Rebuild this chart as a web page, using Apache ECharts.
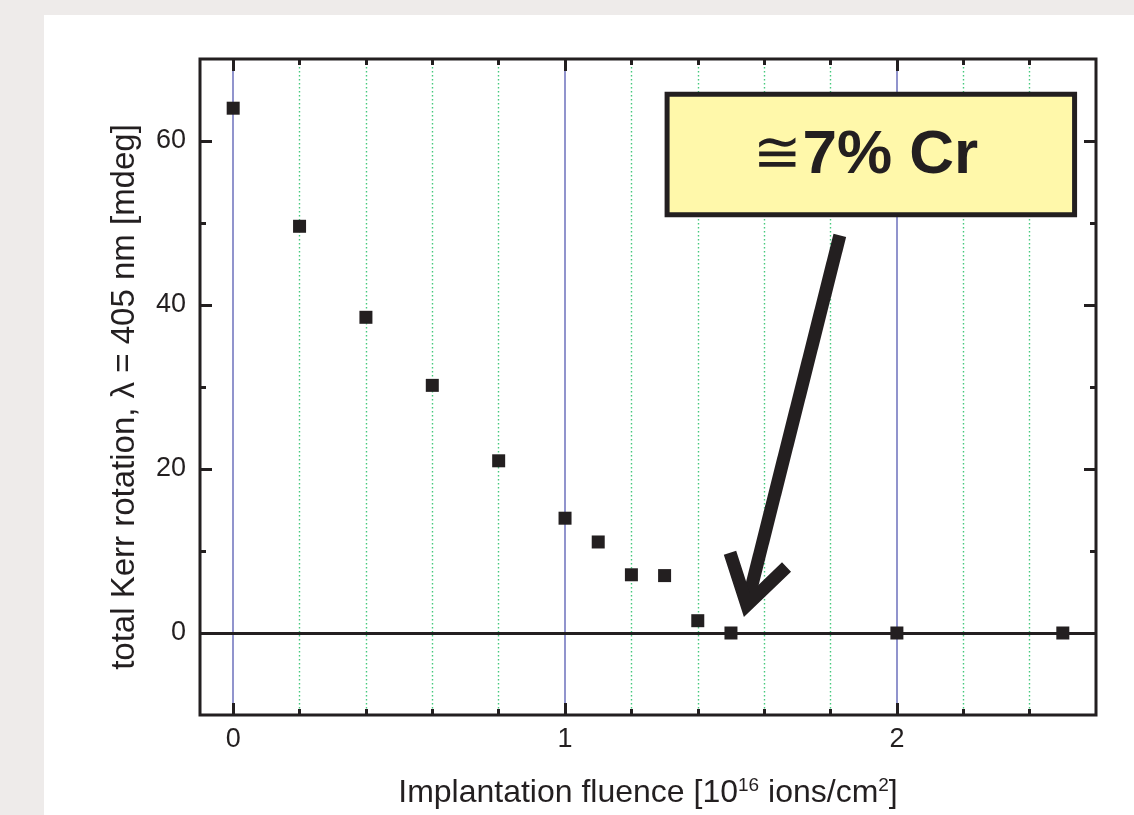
<!DOCTYPE html>
<html>
<head>
<meta charset="utf-8">
<script src="https://cdn.jsdelivr.net/npm/echarts@6/dist/echarts.min.js"></script>
<style>
  html, body { margin: 0; padding: 0; background: #eeebea; overflow: hidden; }
  #box { position: absolute; left: 44px; top: 15px; width: 1090px; height: 800px; background: #fff; }
</style>
</head>
<body>
<div id="box"></div>
<script>
// fluence in 10^16 ions/cm^2, Kerr rotation in mdeg
const fluence = [0, 0.2, 0.4, 0.6, 0.8, 1.0, 1.1, 1.2, 1.3, 1.4, 1.5, 2.0, 2.5];
const kerr = [64.0, 49.6, 38.5, 30.2, 21.0, 14.0, 11.1, 7.1, 7.0, 1.5, 0, 0, 0];

const xMajor = [0, 1, 2];
const xMinor = [0.2, 0.4, 0.6, 0.8, 1.2, 1.4, 1.6, 1.8, 2.2, 2.4];
const yMajor = [0, 20, 40, 60];
const yMinor = [10, 30, 50];

// annotation, in data units
const boxCorners = [[1.3, 66.0], [2.543, 50.7]];
const arrowTail = [1.828, 48.5];
const arrowTip = [1.548, 3.4];

const ink = '#231f20';
const font = '"Liberation Sans", Arial, sans-serif';

let chart = echarts.init(document.getElementById('box'));

function xAx(pos, ticks, len, labels, split) {
	return {
		type: 'value', min: -0.1, max: 2.6, position: pos,
		axisLine: { show: false, onZero: false },
		axisTick: { show: true, inside: true, length: len, customValues: ticks, lineStyle: { color: ink, width: 3 } },
		axisLabel: labels ? { show: true, customValues: ticks, color: ink, fontSize: 27, fontFamily: font, margin: 11 } : { show: false },
		splitLine: split ? { show: true, lineStyle: split } : { show: false }
	};
}

function yAx(pos, ticks, len, labels) {
	return {
		type: 'value', min: -10, max: 70, position: pos,
		axisLine: { show: false, onZero: false },
		axisTick: { show: true, inside: true, length: len, customValues: ticks, lineStyle: { color: ink, width: 3 } },
		axisLabel: labels ? { show: true, customValues: ticks, color: ink, fontSize: 27, fontFamily: font, margin: 14 } : { show: false },
		splitLine: { show: false }
	};
}

let xAxes = [
	xAx('bottom', xMajor, 12, true, { color: '#6c71bc', width: 1.5 }),
	xAx('bottom', xMinor, 6, false, { color: '#45c97d', width: 1.4, type: [1.5, 2.5] }),
	xAx('top', xMajor, 12, false, null),
	xAx('top', xMinor, 6, false, null)
];
xAxes[0].name = 'Implantation fluence [10{sup|16} ions/cm{sup|2}]';
xAxes[0].nameLocation = 'middle';
xAxes[0].nameGap = 61;
xAxes[0].nameTextStyle = {
	color: ink, fontSize: 32, fontFamily: font,
	rich: { sup: { fontSize: 19, verticalAlign: 'top', padding: [0, 0, 16, 0], color: ink, fontFamily: font } }
};

let yAxes = [
	yAx('left', yMajor, 12, true),
	yAx('left', yMinor, 6, false),
	yAx('right', yMajor, 12, false),
	yAx('right', yMinor, 6, false)
];
yAxes[0].name = 'total Kerr rotation, \u03bb = 405 nm [mdeg]';
yAxes[0].nameLocation = 'middle';
yAxes[0].nameGap = 59;
yAxes[0].nameTextStyle = { color: ink, fontSize: 33, fontFamily: font, padding: [0, 20, 0, 0] };

let option = {
	animation: false,
	grid: {
		left: 156, top: 44, right: 38, bottom: 100,
		show: true, borderColor: ink, borderWidth: 3, backgroundColor: 'transparent'
	},
	xAxis: xAxes,
	yAxis: yAxes,
	series: [{
		type: 'scatter',
		symbol: 'rect',
		symbolSize: 13,
		itemStyle: { color: ink, opacity: 1 },
		data: fluence.map((f, i) => [f, kerr[i]]),
		z: 5,
		markLine: {
			silent: true,
			symbol: 'none',
			label: { show: false },
			lineStyle: { color: ink, width: 3, type: 'solid' },
			data: [{ yAxis: 0 }]
		}
	}]
};
chart.setOption(option);

// annotation box + arrow, placed from data coordinates
let p = v => chart.convertToPixel({ xAxisIndex: 0, yAxisIndex: 0 }, v);
let b0 = p(boxCorners[0]), b1 = p(boxCorners[1]);
let t0 = p(arrowTail), t1 = p(arrowTip);
let dx = t0[0] - t1[0], dy = t0[1] - t1[1];
let L = Math.sqrt(dx * dx + dy * dy);
let ux = dx / L, uy = dy / L;
let headLen = 55, ang = 32 * Math.PI / 180;
function rot(a) {
	return [t1[0] + headLen * (ux * Math.cos(a) - uy * Math.sin(a)), t1[1] + headLen * (ux * Math.sin(a) + uy * Math.cos(a))];
}
let w1 = rot(ang), w2 = rot(-ang);

chart.setOption({
	graphic: [
		{
			type: 'rect', z: 20,
			shape: { x: b0[0] + 2.5, y: b0[1] + 2.5, width: b1[0] - b0[0] - 5, height: b1[1] - b0[1] - 5 },
			style: { fill: '#fff8aa', stroke: ink, lineWidth: 5 }
		},
		{
			type: 'text', z: 21,
			x: (b0[0] + b1[0]) / 2 - 5, y: (b0[1] + b1[1]) / 2 + 1,
			style: {
				text: '{s|\u2245}{b|7% Cr}',
				align: 'center', verticalAlign: 'middle',
				rich: {
					s: { fontSize: 58, fontFamily: font, fill: ink, fontWeight: 'normal' },
					b: { fontSize: 62, fontFamily: font, fill: ink, fontWeight: 'bold' }
				}
			}
		},
		{
			type: 'line', z: 20,
			shape: { x1: t0[0], y1: t0[1], x2: t1[0] + ux * 6, y2: t1[1] + uy * 6 },
			style: { stroke: ink, lineWidth: 13 }
		},
		{
			type: 'polyline', z: 20,
			shape: { points: [w1, t1, w2] },
			style: { stroke: ink, lineWidth: 13, fill: null, lineJoin: 'miter' }
		}
	]
});
</script>
</body>
</html>
